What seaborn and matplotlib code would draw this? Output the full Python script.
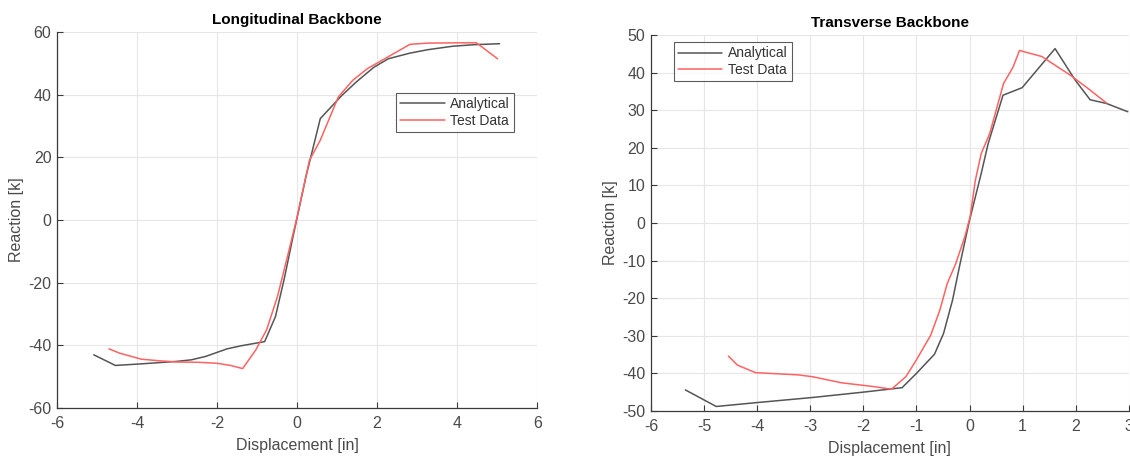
import matplotlib
matplotlib.use("Agg")
import matplotlib.pyplot as plt
import seaborn as sns
import pandas as pd

# Longitudinal backbone
long_ana_x = [-5.08, -4.54, -3.9, -3.0, -2.64, -2.28, -1.75, -1.39, -0.81, -0.54, -0.31, -0.12,
              0.22, 0.58, 1.12, 1.48, 1.92, 2.28, 2.82, 3.27, 3.89, 4.43, 5.06]
long_ana_y = [-43.0, -46.4, -45.9, -45.1, -44.6, -43.5, -41.1, -40.1, -38.8, -30.8, -18.1, -6.4,
              13.8, 32.4, 39.8, 44.1, 48.8, 51.5, 53.3, 54.4, 55.5, 56.0, 56.3]
long_test_x = [-4.70, -4.43, -3.89, -3.45, -3.0, -2.46, -2.01, -1.66, -1.36, -1.03, -0.76, -0.49,
               -0.22, 0.0, 0.31, 0.58, 1.03, 1.39, 1.75, 2.19, 2.82, 3.27, 4.16, 4.48, 5.01]
long_test_y = [-41.1, -42.5, -44.4, -44.9, -45.3, -45.4, -45.7, -46.4, -47.4, -41.4, -35.0, -24.4,
               -10.6, 1.0, 19.1, 25.5, 39.3, 44.6, 48.3, 51.5, 56.1, 56.5, 56.6, 56.6, 51.5]

# Transverse backbone
tran_ana_x = [-5.35, -4.77, -4.03, -2.95, -2.01, -1.27, -1.0, -0.66, -0.49, -0.32, -0.19, 0.0,
              0.22, 0.35, 0.63, 0.99, 1.61, 1.99, 2.27, 2.58, 2.98]
tran_ana_y = [-44.4, -48.8, -47.8, -46.4, -45.0, -43.8, -40.0, -34.9, -29.4, -20.5, -11.6, 0.75,
              13.2, 21.1, 34.0, 36.0, 46.4, 38.0, 32.8, 31.8, 29.6]
tran_test_x = [-4.54, -4.37, -4.03, -3.22, -2.95, -2.41, -1.81, -1.47, -1.2, -1.0, -0.73, -0.56,
               -0.42, -0.26, -0.09, 0.01, 0.11, 0.22, 0.38, 0.64, 0.82, 0.94, 1.36, 1.90, 2.24, 2.58]
tran_test_y = [-35.4, -37.8, -39.8, -40.4, -40.9, -42.5, -43.5, -44.2, -40.9, -36.4, -29.8, -23.2,
               -16.1, -10.8, -3.7, 1.6, 11.4, 18.5, 23.8, 37.1, 41.5, 45.9, 44.3, 39.3, 35.7, 31.9]

series_names = ["Analytical", "Test Data"]
long_xticks = [-6, -4, -2, 0, 2, 4, 6]
long_yticks = [-60, -40, -20, 0, 20, 40, 60]
tran_xticks = [-6, -5, -4, -3, -2, -1, 0, 1, 2, 3]
tran_yticks = [-50, -40, -30, -20, -10, 0, 10, 20, 30, 40, 50]


def make_df(ax_x, ax_y, t_x, t_y):
    d1 = pd.DataFrame({"x": ax_x, "y": ax_y, "s": series_names[0]})
    d2 = pd.DataFrame({"x": t_x, "y": t_y, "s": series_names[1]})
    return pd.concat([d1, d2], ignore_index=True)


sns.set_style("white")
plt.rcParams["font.family"] = ["Liberation Sans", "DejaVu Sans"]
plt.rcParams["axes.unicode_minus"] = False

fig = plt.figure(figsize=(11.3, 4.59), dpi=100)
ax1 = fig.add_axes([0.0504, 0.111, 0.425, 0.819])
ax2 = fig.add_axes([0.576, 0.1046, 0.423, 0.819])

palette = {"Analytical": "#555555", "Test Data": "#ff6262"}
tick_col = "#4a4a4a"

configs = [
    (ax1, make_df(long_ana_x, long_ana_y, long_test_x, long_test_y), "Longitudinal Backbone",
     (-6, 6), (-60, 60), long_xticks, long_yticks,
     dict(loc="upper right", bbox_to_anchor=(0.952, 0.838))),
    (ax2, make_df(tran_ana_x, tran_ana_y, tran_test_x, tran_test_y), "Transverse Backbone",
     (-6, 3), (-50, 50), tran_xticks, tran_yticks,
     dict(loc="upper left", bbox_to_anchor=(0.048, 0.981))),
]

for ax, df, title, xl, yl, xt, yt, legkw in configs:
    sns.lineplot(data=df, x="x", y="y", hue="s", palette=palette, sort=False,
                 estimator=None, linewidth=1.1, ax=ax)
    ax.set_xlim(*xl)
    ax.set_ylim(*yl)
    ax.set_xticks(xt)
    ax.set_yticks(yt)
    ax.grid(True, color="#e6e6e6", linewidth=0.8)
    ax.set_axisbelow(True)
    for side in ["top", "right"]:
        ax.spines[side].set_visible(False)
    for side in ["left", "bottom"]:
        ax.spines[side].set_color("#3a3a3a")
        ax.spines[side].set_linewidth(0.9)
    ax.tick_params(direction="in", length=4, width=0.8, colors="#3a3a3a",
                   labelcolor=tick_col, labelsize=11.5, left=True, bottom=True)
    ax.tick_params(axis="x", pad=6)
    ax.tick_params(axis="y", pad=4)
    ax.set_title(title, fontsize=11, fontweight="bold", color="black", pad=6)
    ax.set_xlabel("Displacement [in]", fontsize=11.5, color=tick_col, labelpad=5)
    ax.set_ylabel("Reaction [k]", fontsize=11.5, color=tick_col, labelpad=3)
    leg = ax.legend(title=None, fontsize=10, frameon=True, fancybox=False,
                    handlelength=3.2, borderpad=0.3, labelspacing=0.2,
                    handletextpad=0.4, borderaxespad=0, **legkw)
    leg.get_frame().set_edgecolor("#333333")
    leg.get_frame().set_linewidth(0.8)
    for t in leg.get_texts():
        t.set_color("#333333")

fig.savefig("out.png", dpi=100)
